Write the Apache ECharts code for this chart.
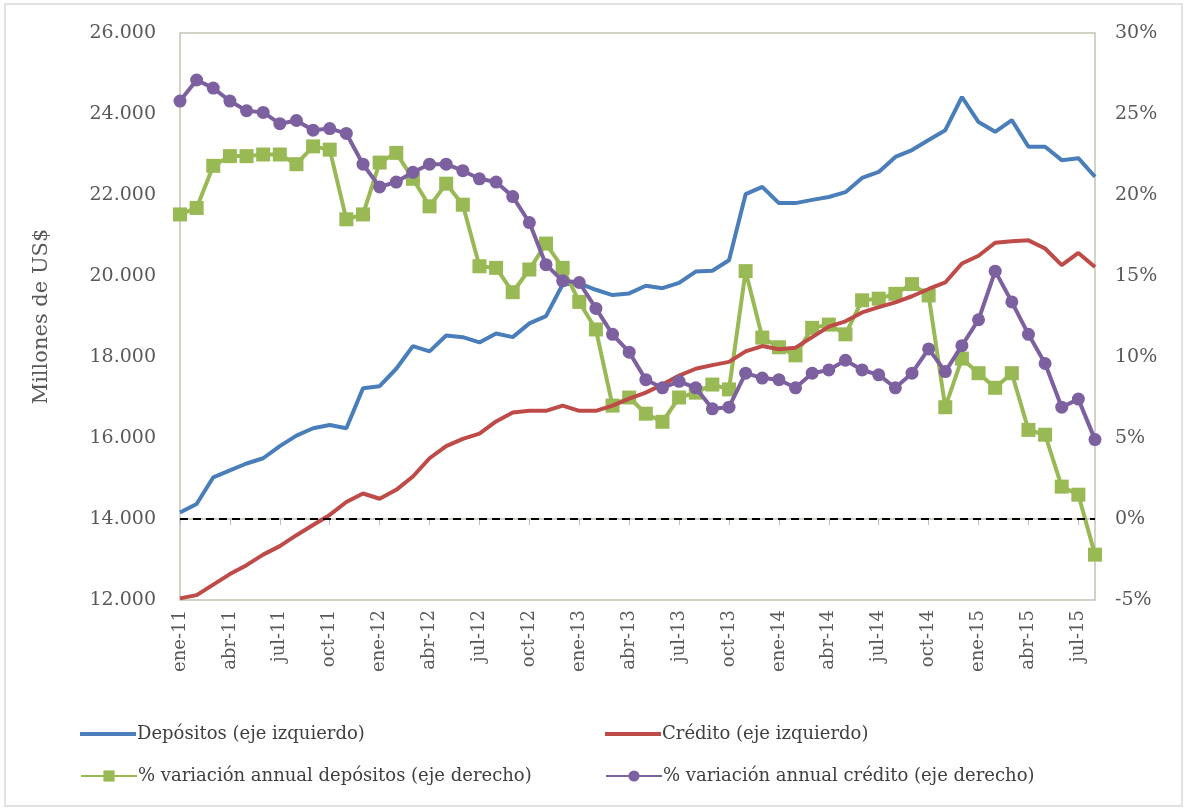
<!DOCTYPE html>
<html>
<head>
<meta charset="utf-8">
<script src="https://cdn.jsdelivr.net/npm/echarts@6/dist/echarts.min.js"></script>
<style>
    html, body { margin: 0; padding: 0; background: #fff; }
    #chart { width: 1187px; height: 811px; }
</style>
</head>
<body>
<div id="chart"></div>
<script>
const months = [
    'ene-11', 'feb-11', 'mar-11', 'abr-11', 'may-11', 'jun-11', 'jul-11', 'ago-11', 'sep-11', 'oct-11', 'nov-11', 'dic-11',
    'ene-12', 'feb-12', 'mar-12', 'abr-12', 'may-12', 'jun-12', 'jul-12', 'ago-12', 'sep-12', 'oct-12', 'nov-12', 'dic-12',
    'ene-13', 'feb-13', 'mar-13', 'abr-13', 'may-13', 'jun-13', 'jul-13', 'ago-13', 'sep-13', 'oct-13', 'nov-13', 'dic-13',
    'ene-14', 'feb-14', 'mar-14', 'abr-14', 'may-14', 'jun-14', 'jul-14', 'ago-14', 'sep-14', 'oct-14', 'nov-14', 'dic-14',
    'ene-15', 'feb-15', 'mar-15', 'abr-15', 'may-15', 'jun-15', 'jul-15', 'ago-15'
];

// millones de US$ (eje izquierdo)
const depositos = [
    14160, 14370, 15030, 15200, 15370, 15500, 15800, 16060, 16240, 16320, 16240, 17230,
    17280, 17710, 18270, 18140, 18530, 18490, 18360, 18580, 18490, 18830, 19010, 19790,
    19820, 19660, 19530, 19570, 19760, 19700, 19830, 20110, 20130, 20390, 22020, 22200,
    21800, 21800, 21880, 21950, 22070, 22420, 22570, 22940, 23110, 23360, 23600, 24420,
    23800, 23560, 23850, 23190, 23190, 22860, 22910, 22450
];
const credito = [
    12040, 12120, 12380, 12640, 12860, 13120, 13330, 13600, 13850, 14100, 14420, 14630,
    14500, 14720, 15050, 15500, 15800, 15980, 16110, 16410, 16630, 16670, 16670, 16800,
    16670, 16670, 16800, 16970, 17120, 17320, 17540, 17710, 17800, 17880, 18140, 18270,
    18190, 18230, 18490, 18750, 18880, 19100, 19230, 19350, 19500, 19680, 19840, 20310,
    20500, 20820, 20860, 20880, 20680, 20270, 20570, 20220
];

// % variación anual (eje derecho)
const varDepositos = [
    18.8, 19.2, 21.8, 22.4, 22.4, 22.5, 22.5, 21.9, 23.0, 22.8, 18.5, 18.8,
    22.0, 22.6, 21.0, 19.3, 20.7, 19.4, 15.6, 15.5, 14.0, 15.4, 17.0, 15.5,
    13.4, 11.7, 7.0, 7.5, 6.5, 6.0, 7.5, 7.8, 8.3, 8.0, 15.3, 11.2,
    10.6, 10.1, 11.8, 12.0, 11.4, 13.5, 13.6, 13.9, 14.5, 13.8, 6.9, 9.9,
    9.0, 8.1, 9.0, 5.5, 5.2, 2.0, 1.5, -2.2
];
const varCredito = [
    25.8, 27.1, 26.6, 25.8, 25.2, 25.1, 24.4, 24.6, 24.0, 24.1, 23.8, 21.9,
    20.5, 20.8, 21.4, 21.9, 21.9, 21.5, 21.0, 20.8, 19.9, 18.3, 15.7, 14.7,
    14.6, 13.0, 11.4, 10.3, 8.6, 8.1, 8.5, 8.1, 6.8, 6.9, 9.0, 8.7,
    8.6, 8.1, 9.0, 9.2, 9.8, 9.2, 8.9, 8.1, 9.0, 10.5, 9.1, 10.7,
    12.3, 15.3, 13.4, 11.4, 9.6, 6.9, 7.4, 4.9
];

const names = [
    'Depósitos (eje izquierdo)',
    'Crédito (eje izquierdo)',
    '% variación annual depósitos (eje derecho)',
    '% variación annual crédito (eje derecho)'
];

const font = 'DejaVu Serif';
const textColor = '#595959';

function legendAt(name, left, top, plain) {
    let legend = {
        data: [name],
        left: left,
        top: top,
        itemWidth: 56,
        itemHeight: 14,
        itemGap: 0,
        textStyle: { fontFamily: font, fontSize: 18, color: '#404040', padding: [0, 0, 0, -4] }
    };
    if (plain) {
        // solo línea, sin marcador
        legend.icon = 'rect';
        legend.itemHeight = 4;
    }
    return legend;
}

let chart = echarts.init(document.getElementById('chart'));

let option = {
    animation: false,
    backgroundColor: '#fff',
    graphic: [{
        type: 'rect',
        shape: { x: 5, y: 4, width: 1177, height: 802 },
        style: { fill: 'none', stroke: '#d9d9d9', lineWidth: 1.5 },
        silent: true
    }],
    legend: [
        legendAt(names[0], 75, 720, true),
        legendAt(names[1], 600, 720, true),
        legendAt(names[2], 75, 762, false),
        legendAt(names[3], 600, 762, false)
    ],
    grid: {
        left: 180, right: 92, top: 33, bottom: 211,
        show: true,
        borderColor: '#c3c3b4',
        borderWidth: 1.5
    },
    xAxis: {
        type: 'category',
        data: months,
        boundaryGap: false,
        axisLine: { show: true, lineStyle: { color: '#c3c3b4', width: 1.5 } },
        axisTick: { show: true, interval: 2, length: 6, lineStyle: { color: '#bfbfbf' } },
        axisLabel: {
            interval: 2,
            rotate: 90,
            margin: 10,
            fontFamily: font,
            fontSize: 18,
            color: textColor
        },
        splitLine: { show: false }
    },
    yAxis: [
        {
            type: 'value',
            min: 12000,
            max: 26000,
            interval: 2000,
            name: 'Millones de US$',
            nameLocation: 'middle',
            nameGap: 128,
            nameTextStyle: { fontFamily: font, fontSize: 21, color: textColor },
            axisLine: { show: false },
            axisTick: { show: false },
            splitLine: { show: false },
            axisLabel: {
                margin: 24,
                fontFamily: font,
                fontSize: 19,
                color: textColor,
                formatter: v => v.toLocaleString('de-DE')
            }
        },
        {
            type: 'value',
            min: -5,
            max: 30,
            interval: 5,
            position: 'right',
            axisLine: { show: false },
            axisTick: { show: false },
            splitLine: { show: false },
            axisLabel: {
                margin: 20,
                fontFamily: font,
                fontSize: 19,
                color: textColor,
                formatter: v => v + '%'
            }
        }
    ],
    series: [
        {
            name: names[0],
            type: 'line',
            yAxisIndex: 0,
            data: depositos,
            symbol: 'none',
            color: '#4a7ebb',
            lineStyle: { width: 4 },
            z: 2
        },
        {
            name: names[1],
            type: 'line',
            yAxisIndex: 0,
            data: credito,
            symbol: 'none',
            color: '#be4b48',
            lineStyle: { width: 4 },
            z: 4
        },
        {
            name: names[2],
            type: 'line',
            yAxisIndex: 1,
            data: varDepositos,
            symbol: 'rect',
            symbolSize: 14,
            showAllSymbol: true,
            color: '#98b954',
            lineStyle: { width: 4 },
            z: 3,
            markLine: {
                silent: true,
                symbol: 'none',
                label: { show: false },
                lineStyle: { color: '#000', type: [8, 5], width: 2 },
                data: [{ yAxis: 0 }]
            }
        },
        {
            name: names[3],
            type: 'line',
            yAxisIndex: 1,
            data: varCredito,
            symbol: 'circle',
            symbolSize: 13,
            showAllSymbol: true,
            color: '#7d60a0',
            lineStyle: { width: 4 },
            z: 5
        }
    ]
};

option && chart.setOption(option);
</script>
</body>
</html>
